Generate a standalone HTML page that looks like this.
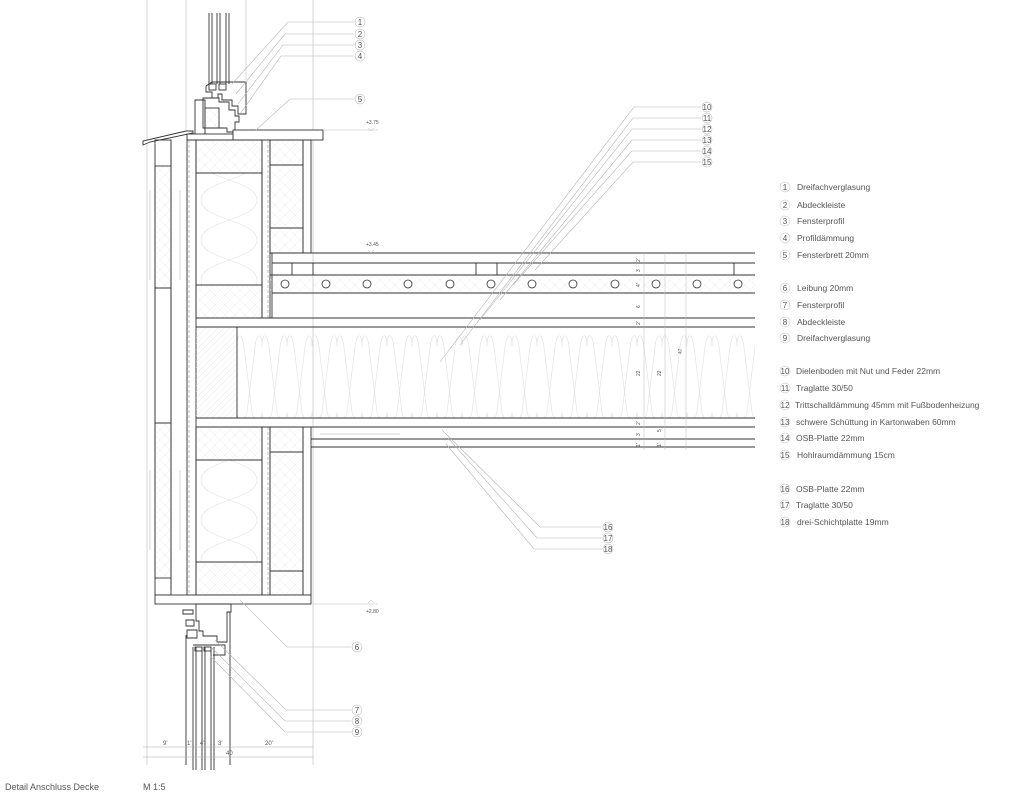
<!DOCTYPE html>
<html><head><meta charset="utf-8"><style>
html,body{margin:0;padding:0;background:#fff}
svg{display:block}
text{font-family:"Liberation Sans",sans-serif;fill:#555}
</style></head><body>
<svg width="1024" height="804" viewBox="0 0 1024 804" xmlns="http://www.w3.org/2000/svg">
<defs>
<pattern id="ins" x="237" y="327" width="25" height="91" patternUnits="userSpaceOnUse">
<path d="M0,85 C0,95 8,95 10,85 L18,20 C20,5 25,5 25,20 M25,85 C25,95 17,95 15,85 L7,20 C5,5 0,5 0,20" fill="none" stroke="#e0e0e0" stroke-width="0.6"/>
</pattern>
<pattern id="winsv" x="196" y="0" width="66" height="40" patternUnits="userSpaceOnUse">
<path d="M5,40 C5,20 61,20 61,0 M61,40 C61,20 5,20 5,0" fill="none" stroke="#e2e2e2" stroke-width="0.6"/>
</pattern>
<pattern id="xh" width="10" height="10" patternUnits="userSpaceOnUse">
<path d="M0,10 L10,0 M0,0 L10,10" stroke="#ececec" stroke-width="0.5"/>
</pattern>
<pattern id="dh" width="6" height="6" patternUnits="userSpaceOnUse">
<path d="M0,6 L6,0" stroke="#e6e6e6" stroke-width="0.5"/>
</pattern>
</defs>

<g stroke="#bbb" stroke-width="0.6">
<line x1="147" y1="0" x2="147" y2="765"/>
<line x1="186" y1="0" x2="186" y2="130"/>
<line x1="313" y1="0" x2="313" y2="765"/>
<line x1="246" y1="0" x2="246" y2="80"/>
</g>

<g stroke="#333" stroke-width="0.9" fill="none">
<line x1="209" y1="13" x2="209" y2="84"/><line x1="212" y1="13" x2="212" y2="84"/>
<line x1="217" y1="13" x2="217" y2="84"/><line x1="220" y1="13" x2="220" y2="84"/>
<line x1="226" y1="13" x2="226" y2="84"/><line x1="229" y1="13" x2="229" y2="84"/>
<path d="M212,82 h34 v32 h-8 v-8 h-6 v-6 h-10 v-6 h-4 v4 h-6 v-6 h-6 v-6 z"/>
<path d="M203,98 h16 v4 h10 v8 h6 v6 h4 v6 h-4 v10 h-8 v-4 h-24 z"/>
<path d="M195,100 h10 v36 h-10 z"/>
<rect x="209" y="84" width="7" height="6"/><rect x="219" y="84" width="7" height="6"/>
<rect x="205" y="108" width="14" height="20" fill="url(#xh)"/>
</g>
<g stroke="#333" stroke-width="0.9" fill="#fff">
<rect x="233" y="130" width="90" height="10"/>
<path d="M143,145 L143,141 L186,131 L193,131 L193,133 L150,142 Z"/>
<rect x="187" y="134" width="46" height="6"/>
</g>

<g stroke="#333" stroke-width="0.9" fill="none">
<rect x="155" y="140" width="16" height="455"/>
<rect x="155" y="166" width="16" height="122" fill="url(#xh)"/>
<rect x="155" y="288" width="16" height="135"/>
<rect x="155" y="423" width="16" height="155" fill="url(#xh)"/>
<line x1="171" y1="140" x2="171" y2="590"/>
<rect x="187" y="140" width="9" height="455"/>
<rect x="196" y="140" width="66" height="178"/>
<rect x="196" y="140" width="66" height="33" fill="url(#xh)"/>
<rect x="196" y="173" width="66" height="112" fill="url(#winsv)"/>
<rect x="196" y="285" width="66" height="33" fill="url(#xh)"/>
<rect x="262" y="140" width="8" height="178"/>
<rect x="270" y="140" width="33" height="113" fill="url(#xh)"/>
<line x1="270" y1="165" x2="303" y2="165"/><line x1="270" y1="228" x2="303" y2="228"/>
<rect x="303" y="140" width="8" height="113"/>
<rect x="196" y="427" width="66" height="168"/>
<rect x="196" y="427" width="66" height="33" fill="url(#xh)"/>
<rect x="196" y="460" width="66" height="102" fill="url(#winsv)"/>
<rect x="196" y="562" width="66" height="33" fill="url(#xh)"/>
<rect x="262" y="427" width="8" height="168"/>
<rect x="270" y="427" width="33" height="168" fill="url(#xh)"/>
<line x1="270" y1="452" x2="303" y2="452"/><line x1="270" y1="571" x2="303" y2="571"/>
<rect x="303" y="427" width="8" height="168"/>
<rect x="155" y="595" width="156" height="9" fill="#fff"/>
</g>
<g stroke="#999" stroke-width="0.6" stroke-dasharray="3,2">
<line x1="189" y1="140" x2="189" y2="595"/><line x1="268" y1="140" x2="268" y2="318"/><line x1="268" y1="427" x2="268" y2="595"/>
</g>
<g stroke="#aaa" stroke-width="0.5">
<line x1="150" y1="190" x2="150" y2="280"/><line x1="180" y1="190" x2="180" y2="280"/>
<line x1="150" y1="470" x2="150" y2="550"/><line x1="180" y1="470" x2="180" y2="550"/>
<line x1="320" y1="434" x2="400" y2="434"/>
</g>

<rect x="237" y="327" width="518" height="91" fill="url(#ins)"/>
<rect x="270" y="275" width="485" height="18" fill="url(#xh)"/>
<rect x="196" y="327" width="41" height="91" fill="url(#dh)"/>
<g stroke="#333" stroke-width="0.9" fill="none">
<line x1="270" y1="253" x2="755" y2="253"/>
<line x1="272" y1="263" x2="755" y2="263"/>
<line x1="270" y1="275" x2="755" y2="275"/>
<line x1="272" y1="293" x2="755" y2="293"/>
<line x1="196" y1="318" x2="755" y2="318"/>
<line x1="196" y1="327" x2="755" y2="327"/>
<line x1="196" y1="418" x2="755" y2="418"/>
<line x1="196" y1="427" x2="755" y2="427"/>
<line x1="311" y1="439" x2="755" y2="439"/>
<line x1="311" y1="447" x2="755" y2="447"/>
<line x1="237" y1="327" x2="237" y2="418"/>
<line x1="272" y1="253" x2="272" y2="318"/>
<rect x="292" y="263" width="21" height="12"/>
<rect x="476" y="263" width="21" height="12"/>
<line x1="734" y1="263" x2="734" y2="275"/>
<g stroke-width="0.8">
<circle cx="285" cy="284" r="4"/><circle cx="326" cy="284" r="4"/><circle cx="367" cy="284" r="4"/>
<circle cx="408" cy="284" r="4"/><circle cx="450" cy="284" r="4"/><circle cx="491" cy="284" r="4"/>
<circle cx="532" cy="284" r="4"/><circle cx="573" cy="284" r="4"/><circle cx="615" cy="284" r="4"/>
<circle cx="656" cy="284" r="4"/><circle cx="697" cy="284" r="4"/><circle cx="738" cy="284" r="4"/>
</g>
</g>
<g stroke="#bbb" stroke-width="0.5">
<line x1="644" y1="253" x2="644" y2="450"/><line x1="665" y1="253" x2="665" y2="450"/><line x1="686" y1="253" x2="686" y2="450"/>
</g>
<g font-size="5" fill="#888">
<text x="640" y="262" transform="rotate(-90 640 262)">2'</text>
<text x="640" y="272" transform="rotate(-90 640 272)">3</text>
<text x="640" y="287" transform="rotate(-90 640 287)">4'</text>
<text x="640" y="308" transform="rotate(-90 640 308)">6</text>
<text x="640" y="325" transform="rotate(-90 640 325)">2'</text>
<text x="640" y="376" transform="rotate(-90 640 376)">22</text>
<text x="661" y="376" transform="rotate(-90 661 376)">22</text>
<text x="682" y="354" transform="rotate(-90 682 354)">47</text>
<text x="640" y="425" transform="rotate(-90 640 425)">2'</text>
<text x="640" y="436" transform="rotate(-90 640 436)">3</text>
<text x="640" y="447" transform="rotate(-90 640 447)">1'</text>
<text x="661" y="432" transform="rotate(-90 661 432)">5</text>
<text x="661" y="447" transform="rotate(-90 661 447)">1'</text>
</g>

<g stroke="#333" stroke-width="0.9" fill="none">
<path d="M196,604 h35 v8 h-4 v30 h-10 v-6 h-14 v-5 h-4 v-10 h-3 z"/>
<path d="M183,610 h10 v4 h-10 z"/>
<path d="M186,620 h8 v6 h-8 z"/>
<path d="M187,630 h10 v8 h-10 z"/>
<line x1="193" y1="647" x2="193" y2="770"/><line x1="196" y1="647" x2="196" y2="770"/>
<line x1="202" y1="647" x2="202" y2="770"/><line x1="205" y1="647" x2="205" y2="770"/>
<line x1="211" y1="647" x2="211" y2="770"/><line x1="214" y1="647" x2="214" y2="770"/>
<rect x="195" y="647" width="7" height="4"/><rect x="204" y="647" width="7" height="4"/>
<path d="M193,645 h32 v10 h-12"/>
<line x1="186" y1="635" x2="186" y2="765"/>
<line x1="230" y1="612" x2="230" y2="765"/>
</g>

<g stroke="#aaa" stroke-width="0.5">
<line x1="143" y1="747" x2="313" y2="747"/><line x1="143" y1="757" x2="313" y2="757"/>
</g>
<g font-size="6" fill="#777">
<text x="163" y="745">9'</text><text x="187" y="745">1'</text><text x="200" y="745">4'</text>
<text x="218" y="745">3'</text><text x="265" y="745">20'</text><text x="226" y="755">40</text>
</g>

<g font-size="5" fill="#888">
<text x="366" y="124">+3.75</text><text x="366" y="246">+3.45</text><text x="366" y="613">+2.80</text>
</g>
<g stroke="#bbb" stroke-width="0.5" fill="none">
<line x1="323" y1="130" x2="378" y2="130"/><path d="M368,128 l3,3 l3,-3"/>
<path d="M368,250 l3,3 l3,-3"/>
<line x1="313" y1="604" x2="378" y2="604"/><path d="M368,603 l3,-3 l3,3"/>
</g>

<g stroke="#b5b5b5" stroke-width="0.6" fill="none">
<path d="M354,22 H288 L232,84"/>
<path d="M354,34 H285 L236,94"/>
<path d="M354,45 H283 L238,104"/>
<path d="M354,56 H281 L240,114"/>
<path d="M354,99 H290 L255,131"/>
<path d="M701,107 H634 L440,362"/>
<path d="M701,118 H633 L460,345"/>
<path d="M701,129 H632 L480,320"/>
<path d="M701,140 H632 L500,300"/>
<path d="M701,151 H632 L513,285"/>
<path d="M701,162 H633 L535,270"/>
<path d="M602,527 H540 L442,430"/>
<path d="M602,538 H537 L448,438"/>
<path d="M602,549 H534 L446,444"/>
<path d="M351,647 H287 L240,600"/>
<path d="M351,710 H286 L215,640"/>
<path d="M351,721 H285 L212,648"/>
<path d="M351,732 H285 L210,656"/>
</g>
<g stroke="#aaa" stroke-width="0.5" fill="#fff">
<circle cx="360" cy="22" r="5"/><circle cx="360" cy="34" r="5"/><circle cx="360" cy="45" r="5"/><circle cx="360" cy="56" r="5"/><circle cx="360" cy="99" r="5"/>
<circle cx="707" cy="107" r="5"/><circle cx="707" cy="118" r="5"/><circle cx="707" cy="129" r="5"/><circle cx="707" cy="140" r="5"/><circle cx="707" cy="151" r="5"/><circle cx="707" cy="162" r="5"/>
<circle cx="608" cy="527" r="5"/><circle cx="608" cy="538" r="5"/><circle cx="608" cy="549" r="5"/>
<circle cx="357" cy="647" r="5"/><circle cx="357" cy="710" r="5"/><circle cx="357" cy="721" r="5"/><circle cx="357" cy="732" r="5"/>
</g>
<g font-size="8" text-anchor="middle" fill="#666">
<text x="360" y="25">1</text><text x="360" y="37">2</text><text x="360" y="48">3</text><text x="360" y="59">4</text><text x="360" y="102">5</text>
<text x="707" y="110">10</text><text x="707" y="121">11</text><text x="707" y="132">12</text><text x="707" y="143">13</text><text x="707" y="154">14</text><text x="707" y="165">15</text>
<text x="608" y="530">16</text><text x="608" y="541">17</text><text x="608" y="552">18</text>
<text x="357" y="650">6</text><text x="357" y="713">7</text><text x="357" y="724">8</text><text x="357" y="735">9</text>
</g>

<g font-size="8.5" fill="#555">
<g stroke="#bbb" stroke-width="0.5" fill="none">
<circle cx="785" cy="187" r="5"/><circle cx="785" cy="205" r="5"/><circle cx="785" cy="221" r="5"/><circle cx="785" cy="238" r="5"/><circle cx="785" cy="255" r="5"/>
<circle cx="785" cy="288" r="5"/><circle cx="785" cy="305" r="5"/><circle cx="785" cy="322" r="5"/><circle cx="785" cy="338" r="5"/>
<circle cx="785" cy="371" r="5"/><circle cx="785" cy="388" r="5"/><circle cx="785" cy="405" r="5"/><circle cx="785" cy="422" r="5"/><circle cx="785" cy="438" r="5"/><circle cx="785" cy="455" r="5"/>
<circle cx="785" cy="489" r="5"/><circle cx="785" cy="505" r="5"/><circle cx="785" cy="522" r="5"/>
</g>
<g text-anchor="middle" font-size="8">
<text x="785" y="190">1</text><text x="785" y="208">2</text><text x="785" y="224">3</text><text x="785" y="241">4</text><text x="785" y="258">5</text>
<text x="785" y="291">6</text><text x="785" y="308">7</text><text x="785" y="325">8</text><text x="785" y="341">9</text>
<text x="785" y="374">10</text><text x="785" y="391">11</text><text x="785" y="408">12</text><text x="785" y="425">13</text><text x="785" y="441">14</text><text x="785" y="458">15</text>
<text x="785" y="492">16</text><text x="785" y="508">17</text><text x="785" y="525">18</text>
</g>
<text x="797" y="190">Dreifachverglasung</text>
<text x="797" y="208">Abdeckleiste</text>
<text x="797" y="224">Fensterprofil</text>
<text x="797" y="241">Profildämmung</text>
<text x="797" y="258">Fensterbrett 20mm</text>
<text x="797" y="291">Leibung 20mm</text>
<text x="797" y="308">Fensterprofil</text>
<text x="797" y="325">Abdeckleiste</text>
<text x="797" y="341">Dreifachverglasung</text>
<text x="796" y="374">Dielenboden mit Nut und Feder 22mm</text>
<text x="796" y="391">Traglatte 30/50</text>
<text x="795" y="408">Trittschalldämmung 45mm mit Fußbodenheizung</text>
<text x="796" y="425">schwere Schüttung in Kartonwaben 60mm</text>
<text x="796" y="441">OSB-Platte 22mm</text>
<text x="797" y="458">Hohlraumdämmung 15cm</text>
<text x="796" y="492">OSB-Platte 22mm</text>
<text x="796" y="508">Traglatte 30/50</text>
<text x="797" y="525">drei-Schichtplatte 19mm</text>
</g>

<text x="5" y="790" font-size="9" fill="#555">Detail Anschluss Decke</text>
<text x="143" y="790" font-size="9" fill="#555">M 1:5</text>
</svg>
</body></html>
